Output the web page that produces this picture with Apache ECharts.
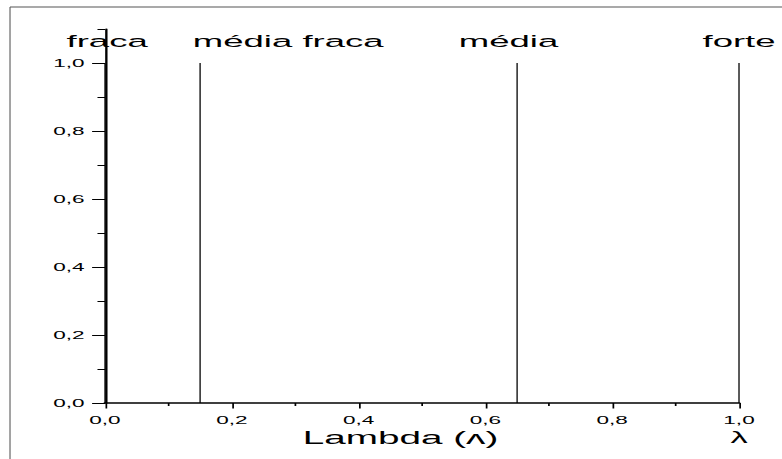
<!DOCTYPE html>
<html>
<head>
<meta charset="utf-8">
<script src="https://cdn.jsdelivr.net/npm/echarts@6/dist/echarts.min.js"></script>
<style>
  html, body { margin: 0; padding: 0; background: #fff; overflow: hidden; }
  #wrap { width: 782px; height: 459px; overflow: hidden; }
  /* the figure uses horizontally widened lettering, so the chart is drawn narrow and stretched */
  #chart { width: 364px; height: 459px; transform: scaleX(2.1484); transform-origin: 0 0; }
</style>
</head>
<body>
<div id="wrap"><div id="chart"></div></div>
<script>
// lambda thresholds and the class name written above each one
const lambdaPositions = [0, 0.15, 0.65, 1.0];
const strengthLabels = ['fraca', 'média fraca', 'média', 'forte'];
const membership = [1, 1, 1, 1];

// axis ticks and labels
const xTickValues = [0, 0.2, 0.4, 0.6, 0.8, 1.0];
const yLabelValues = [0, 0.2, 0.4, 0.6, 0.8, 1.0];
const yMinorTickValues = [0.1, 0.3, 0.5, 0.7, 0.9, 1.1];
const xAxisTitle = 'Lambda (ʌ)';
const xEndSymbol = 'λ';

// horizontal nudges for the class names (in unstretched px)
const labelShift = [1, 41, -4, 0];

const FONT = '"Liberation Sans", Arial, sans-serif';
const fmt = v => v.toFixed(1).replace('.', ',');

const chart = echarts.init(document.getElementById('chart'), null, { renderer: 'svg' });

chart.setOption({
  animation: false,
  backgroundColor: '#fff',
  textStyle: { fontFamily: FONT, color: '#000' },
  grid: { left: 48.87, right: 20.02, top: 29, bottom: 56, containLabel: false, outerBoundsMode: 'none' },
  graphic: [
    { type: 'line', silent: true, shape: { x1: 4.66, y1: 7, x2: 400, y2: 7 }, style: { stroke: '#555', lineWidth: 1 } },
    { type: 'line', silent: true, shape: { x1: 4.66, y1: 7, x2: 4.66, y2: 470 }, style: { stroke: '#555', lineWidth: 0.5 } }
  ],
  xAxis: {
    type: 'value', min: 0, max: 1, interval: 0.2,
    axisLine: { onZero: false, lineStyle: { color: '#000', width: 1.5 } },
    axisTick: { show: true, customValues: xTickValues, length: 5.5, lineStyle: { color: '#000', width: 0.8 } },
    minorTick: { show: true, splitNumber: 2, length: 3, lineStyle: { color: '#000', width: 0.8 } },
    splitLine: { show: false },
    axisLabel: {
      customValues: xTickValues,
      margin: 11,
      formatter: v => (v === 1 ? '{v|' + fmt(v) + '}\n{l|' + xEndSymbol + '}' : '{v|' + fmt(v) + '}'),
      rich: {
        v: { fontSize: 10.5, lineHeight: 12, color: '#000', fontFamily: FONT },
        l: { fontSize: 16, lineHeight: 24, color: '#000', fontFamily: FONT }
      }
    },
    name: xAxisTitle,
    nameLocation: 'middle',
    nameGap: 26,
    nameMoveOverlap: false,
    nameTextStyle: { fontSize: 18, lineHeight: 18, color: '#000', fontFamily: FONT, padding: [0, 20, 0, 0] }
  },
  yAxis: [
    {
      type: 'value', min: 0, max: 1.1, interval: 0.1,
      axisLine: { show: true, lineStyle: { color: '#000', width: 1.1 } },
      axisTick: { show: true, customValues: yLabelValues, length: 6, lineStyle: { color: '#000', width: 1 } },
      splitLine: { show: false },
      axisLabel: { customValues: yLabelValues, formatter: fmt, margin: 9.5, fontSize: 10.5, color: '#000', fontFamily: FONT }
    },
    {
      type: 'value', min: 0, max: 1.1, interval: 0.1, position: 'left',
      axisLine: { show: false },
      axisLabel: { show: false },
      splitLine: { show: false },
      axisTick: { show: true, customValues: yMinorTickValues, length: 3.5, lineStyle: { color: '#000', width: 1 } }
    }
  ],
  series: lambdaPositions.map((x, i) => ({
    type: 'line',
    name: strengthLabels[i],
    silent: true,
    symbol: 'circle',
    symbolSize: 0,
    showSymbol: true,
    lineStyle: { color: '#000', width: 0.6 },
    itemStyle: { color: '#000' },
    z: 3,
    data: [
      [x, 0],
      {
        value: [x, membership[i]],
        label: {
          show: true, position: 'top', distance: 13, offset: [labelShift[i], 0],
          formatter: strengthLabels[i], fontSize: 17, lineHeight: 17, color: '#000', fontFamily: FONT
        }
      }
    ]
  }))
});
</script>
</body>
</html>
